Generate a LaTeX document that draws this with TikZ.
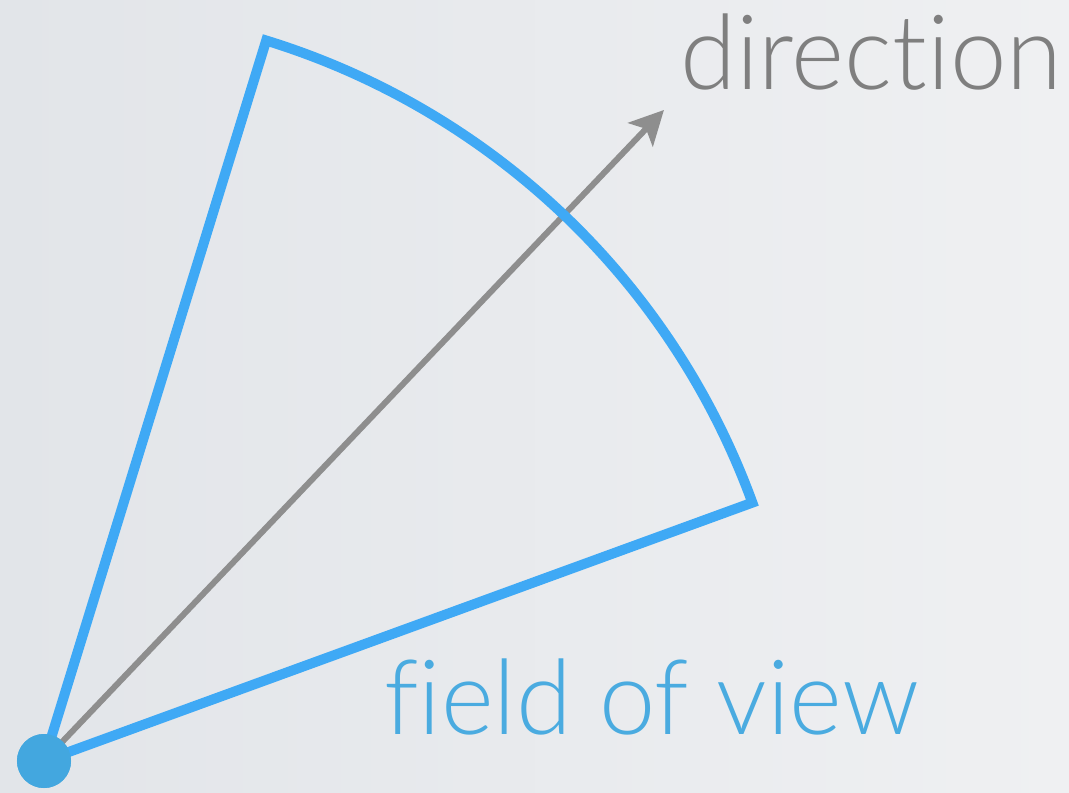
\documentclass[tikz,border=0pt]{standalone}
\usepackage{fontspec}
\newfontfamily\gillfont{Lato}[UprightFont={* Light}]
\usepackage{tikz}
\usetikzlibrary{arrows.meta,positioning,calc}
\definecolor{BgDark}{HTML}{E2E5E9}
\definecolor{BgLight}{HTML}{EFF0F2}
\definecolor{FovBlue}{HTML}{3FA9F5}
\definecolor{EyeBlue}{HTML}{43A7DF}
\definecolor{TextBlue}{HTML}{4AABE0}
\definecolor{DirGray}{HTML}{8E8E8E}
\definecolor{TextGray}{HTML}{7F7F7F}

\begin{document}
\begin{tikzpicture}[x=0.025cm,y=0.025cm,
  fov/.style={FovBlue,line width=0.25cm,miter limit=10},
  dir/.style={DirGray,line width=0.15cm,-{Stealth[length=0.85cm,width=0.85cm,inset=0.2cm]}},
  label/.style={font=\gillfont\addfontfeature{Ligatures=NoCommon}\fontsize{74}{80}\selectfont,anchor=base west,inner sep=0pt}]
\shade[shading angle=135,left color=BgDark,right color=BgLight] (0,0) rectangle (1069,792);
\useasboundingbox (0,0) rectangle (1069,792);
\node[circle,fill=EyeBlue,minimum size=1.35cm,inner sep=0pt] (eye) at (44,31) {};
\coordinate (tip) at ($(44,31)+(46.4:899)$);
\coordinate (left) at ($(44,31)+(72.86:754)$);
\draw[dir] (eye.center) -- (tip);
\draw[fov] (eye.center) -- (left) arc[start angle=72.86,end angle=20.04,radius=754] -- cycle;
\node[circle,fill=EyeBlue,minimum size=1.35cm,inner sep=0pt] at (eye) {};
\node[label,text=TextGray,xscale=0.975] (dirlabel) at (680,702) {direction};
\node[label,text=TextBlue,xscale=0.97] (fovlabel) at (384,58) {field of view};
\end{tikzpicture}
\end{document}
